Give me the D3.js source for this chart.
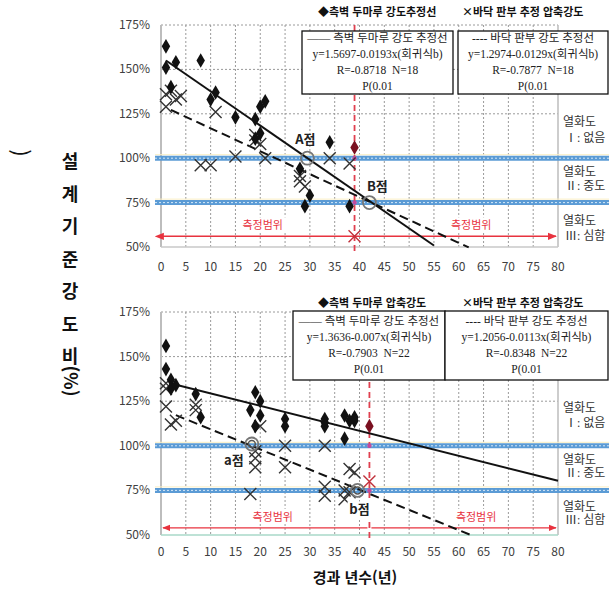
<!DOCTYPE html>
<html lang="ko">
<head>
  <meta charset="UTF-8" />
  <title>설계기준강도비 - 경과 년수</title>
  <script src="https://d3js.org/d3.v7.min.js"></script>
  <style>
    body { margin: 0; background: #fff; }
    svg { display: block; font-family: "Noto Sans CJK KR", "Noto Sans", sans-serif; }
    .tick-label { font-size: 12px; fill: #404040; }
    .box-text { font-family: "Liberation Serif", "Noto Sans CJK KR", serif; font-size: 11.5px; fill: #222; white-space: pre; }
    .legend-title { font-size: 11px; font-weight: bold; fill: #111; }
    .grade { font-family: "Liberation Serif", "Noto Sans CJK KR", serif; font-size: 12px; fill: #333; }
  </style>
</head>
<body>
  <svg id="chart" width="609" height="591"></svg>

  <script>
    // axis ticks
    const xTicks = d3.range(0, 81, 5);
    const yTicks = [50, 75, 100, 125, 150, 175];

    // upper panel : [years, ratio %]
    const topWall = [[1, 163], [1, 151], [3, 154], [8, 155], [2, 140], [11, 137], [10, 133],
      [15, 123], [19, 122], [20, 129], [21, 132], [19, 111], [20, 114], [34, 109],
      [28, 94], [30, 79], [29, 73], [38, 73]];
    const topWallMeasured = [[39, 106]];
    const topFloor = [[1, 136], [1, 129], [3, 133], [4, 135], [2, 138], [11, 126], [15, 101],
      [21, 100], [8, 96], [10, 96], [19, 110], [19, 113], [34, 100], [38, 97],
      [28, 87], [29, 84], [28, 90], [20, 108]];
    const topFloorMeasured = [[39, 56]];

    // lower panel
    const botWall = [[1, 156], [1, 143], [2, 137], [2, 132], [3, 134], [7, 129], [8, 116],
      [19, 130], [20, 125], [18, 120], [20, 117], [19, 111], [25, 115], [25, 111],
      [33, 113], [33, 111], [33, 115], [37, 117], [39, 116], [38, 114], [39, 114], [37, 104]];
    const botWallMeasured = [[42, 111]];
    const botFloor = [[1, 132], [1, 122], [1, 135], [2, 112], [3, 114], [7, 123], [7, 120],
      [20, 111], [19, 97], [19, 93], [19, 88], [25, 100], [25, 88], [18, 73],
      [33, 100], [33, 77], [33, 72], [38, 87], [39, 85], [37, 75], [37, 70], [38, 74]];
    const botFloorMeasured = [[42, 80]];

    // regression lines: [intercept, slope, first year, last year]
    const topWallFit = [1.5697, -0.0193, 1, 55];
    const topFloorFit = [1.2974, -0.0129, 2, 62];
    const botWallFit = [1.3636, -0.007, 2, 80];
    const botFloorFit = [1.2056, -0.0113, 3, 63];

    const topMeasureYear = 39;
    const botMeasureYear = 42;
    const gradeLines = [100, 75];

    // reference points: [label, years, ratio]
    const topMarks = [["A점", 29.5, 100], ["B점", 42, 75]];
    const botMarks = [["a점", 18.3, 101], ["b점", 39.6, 75]];

    const topBoxes = [
      ["—— 측벽 두마루 강도 추정선", "y=1.5697-0.0193x(회귀식b)", "R=-0.8718  N=18", "P(0.01"],
      ["---- 바닥 판부 강도 추정선", "y=1.2974-0.0129x(회귀식b)", "R=-0.7877  N=18", "P(0.01"]
    ];
    const botBoxes = [
      ["—— 측벽 두마루 강도 추정선", "y=1.3636-0.007x(회귀식b)", "R=-0.7903  N=22", "P(0.01"],
      ["---- 바닥 판부 강도 추정선", "y=1.2056-0.0113x(회귀식b)", "R=-0.8348  N=22", "P(0.01"]
    ];
    const topTitles = ["◆측벽 두마루 강도추정선", "×바닥 판부 추정 압축강도"];
    const botTitles = ["◆측벽 두마루 압축강도", "×바닥 판부 추정 압축강도"];
    const gradeLabels = [["열화도", "Ⅰ: 없음"], ["열화도", "Ⅱ: 중도"], ["열화도", "Ⅲ: 심함"]];
    const yTitle = ["설", "계", "기", "준", "강", "도", "비"];

    const svg = d3.select("#chart");
    const x = d3.scaleLinear().domain([0, 80]).range([161, 558]);

    const defs = svg.append("defs");
    ["start", "end"].forEach(k => {
      defs.append("marker")
        .attr("id", "arr-" + k)
        .attr("viewBox", "0 0 10 10")
        .attr("refX", k === "end" ? 9 : 1).attr("refY", 5)
        .attr("markerWidth", 6).attr("markerHeight", 6)
        .attr("orient", k === "end" ? "auto" : "auto-start-reverse")
        .append("path")
        .attr("d", "M0,1 L10,5 L0,9 z")
        .attr("fill", "#e8333f");
    });

    function drawPanel(p) {
      const y = d3.scaleLinear().domain([50, 175]).range(p.yRange);
      const g = svg.append("g");

      // grid
      g.selectAll(".vg").data(xTicks.filter(d => d > 0 && d < 80)).join("line")
        .attr("x1", d => x(d)).attr("x2", d => x(d))
        .attr("y1", y(175)).attr("y2", y(50))
        .attr("stroke", "#9a9a9a").attr("stroke-dasharray", "2,2");
      g.selectAll(".hg").data([125, 150, 175]).join("line")
        .attr("x1", x(0)).attr("x2", x(80))
        .attr("y1", d => y(d)).attr("y2", d => y(d))
        .attr("stroke", "#9a9a9a").attr("stroke-dasharray", "2,2");
      g.append("line").attr("x1", x(80)).attr("x2", x(80)).attr("y1", y(175)).attr("y2", y(50))
        .attr("stroke", "#bdbdbd").attr("stroke-width", 1.5);
      g.append("line").attr("x1", x(0)).attr("x2", x(0)).attr("y1", y(175)).attr("y2", y(50))
        .attr("stroke", "#bdbdbd").attr("stroke-width", 2);
      g.append("line").attr("x1", x(0)).attr("x2", x(80)).attr("y1", y(50)).attr("y2", y(50))
        .attr("stroke", p.baseColor).attr("stroke-width", 1.5);

      // grade lines (blue double)
      gradeLines.forEach(v => {
        g.append("line").attr("x1", x(0) - 6).attr("x2", 609).attr("y1", y(v) - 3.5).attr("y2", y(v) - 3.5)
          .attr("stroke", "#fbefc4").attr("stroke-width", 1);
        g.append("line").attr("x1", x(0) - 6).attr("x2", 609).attr("y1", y(v)).attr("y2", y(v))
          .attr("stroke", "#5b9bd5").attr("stroke-width", 5);
        g.append("line").attr("x1", x(0) - 6).attr("x2", 609).attr("y1", y(v)).attr("y2", y(v))
          .attr("stroke", "#d6e8f7").attr("stroke-width", 1).attr("stroke-dasharray", "2,2");
      });

      // measuring year
      g.append("line").attr("x1", x(p.measureYear)).attr("x2", x(p.measureYear))
        .attr("y1", y(175)).attr("y2", y(50) + 4)
        .attr("stroke", "#e0404f").attr("stroke-width", 1.8).attr("stroke-dasharray", "6,4");
      gradeLines.forEach(v => {
        g.append("circle").attr("cx", x(p.measureYear)).attr("cy", y(v)).attr("r", 2.2).attr("fill", "#c04aa0");
      });

      // measuring range arrows
      const ry = y(p.rangeVal);
      if (p.splitArrow) {
        g.append("line").attr("x1", x(p.measureYear) - 2).attr("x2", x(0) + 2).attr("y1", ry).attr("y2", ry)
          .attr("stroke", "#e8333f").attr("stroke-width", 1.3).attr("marker-end", "url(#arr-end)");
        g.append("line").attr("x1", x(p.measureYear) + 2).attr("x2", x(80) - 2).attr("y1", ry).attr("y2", ry)
          .attr("stroke", "#e8333f").attr("stroke-width", 1.3).attr("marker-end", "url(#arr-end)");
      } else {
        g.append("line").attr("x1", x(0) + 2).attr("x2", x(80) - 2).attr("y1", ry).attr("y2", ry)
          .attr("stroke", "#e8333f").attr("stroke-width", 1.5)
          .attr("marker-start", "url(#arr-start)").attr("marker-end", "url(#arr-end)");
      }
      p.rangeLabelX.forEach(v => {
        g.append("rect").attr("x", x(v) - 24).attr("y", ry - 19).attr("width", 48).attr("height", 15).attr("fill", "#fff");
        g.append("text").attr("x", x(v)).attr("y", ry - 7).attr("text-anchor", "middle")
          .attr("font-size", 11).attr("fill", "#e8333f").text("측정범위");
      });

      // regression lines
      const fitLine = d3.line().x(d => x(d[0])).y(d => y(d[1]));
      [[p.wallFit, null], [p.floorFit, "9,5"]].forEach(([f, dash]) => {
        const pts = [f[2], f[3]].map(t => [t, (f[0] + f[1] * t) * 100]);
        g.append("path").attr("d", fitLine(pts)).attr("fill", "none")
          .attr("stroke", "#111").attr("stroke-width", 2)
          .attr("stroke-dasharray", dash);
      });

      // points
      const diamond = d3.symbol().type(d3.symbolDiamond).size(62);
      const drawWall = (data, color) => g.selectAll(null).data(data).join("path")
        .attr("d", diamond).attr("fill", color)
        .attr("transform", d => `translate(${x(d[0])},${y(d[1])})`);
      const drawFloor = (data, color) => g.selectAll(null).data(data).join("path")
        .attr("d", "M-6,-6L6,6M-6,6L6,-6").attr("stroke", color).attr("stroke-width", 1.4).attr("fill", "none")
        .attr("transform", d => `translate(${x(d[0])},${y(d[1])})`);
      drawFloor(p.floor, "#333");
      drawWall(p.wall, "#111");
      drawWall(p.wallMeasured, "#7a1020");
      drawFloor(p.floorMeasured, "#c0303a");

      // reference points
      p.marks.forEach((m, i) => {
        const cx = x(m[1]), cy = y(m[2]);
        g.append("circle").attr("cx", cx).attr("cy", cy).attr("r", 6.5)
          .attr("fill", "none").attr("stroke", "#777").attr("stroke-width", 1.8);
        if (p.doubleRing) {
          g.append("circle").attr("cx", cx).attr("cy", cy).attr("r", 3.5)
            .attr("fill", "none").attr("stroke", "#555").attr("stroke-width", 1.5);
        }
        const off = p.markOffsets[i];
        if (p.doubleRing) {
          g.append("rect").attr("x", cx + off[0] - 12).attr("y", cy + off[1] - 13).attr("width", 24).attr("height", 17).attr("fill", "#fff");
        }
        g.append("text").attr("x", cx + off[0]).attr("y", cy + off[1])
          .attr("text-anchor", "middle").attr("font-size", 13).attr("font-weight", "bold")
          .attr("fill", "#222").text(m[0]);
      });

      // tick labels
      g.selectAll(".yl").data(yTicks).join("text").attr("class", "tick-label")
        .attr("x", 150).attr("y", d => y(d) + 4).attr("text-anchor", "end").text(d => d + "%");
      g.selectAll(".xl").data(xTicks).join("text").attr("class", "tick-label")
        .attr("x", d => x(d)).attr("y", p.xLabelY).attr("text-anchor", "middle").text(d => d);

      // grade labels
      const gradeY = [[p.gradeYs[0], p.gradeYs[1]], [p.gradeYs[2], p.gradeYs[3]], [p.gradeYs[4], p.gradeYs[5]]];
      gradeLabels.forEach((lbl, i) => {
        g.append("text").attr("class", "grade").attr("x", 563).attr("y", gradeY[i][0]).text(lbl[0]);
        g.append("text").attr("class", "grade").attr("x", 565).attr("y", gradeY[i][1]).text(lbl[1]);
      });

      // regression boxes
      p.boxes.forEach((lines, i) => {
        const b = p.boxPos[i];
        g.append("rect").attr("x", b[0]).attr("y", b[1]).attr("width", b[2]).attr("height", b[3])
          .attr("fill", "#fff").attr("stroke", "#111").attr("stroke-width", 1.3);
        lines.forEach((t, j) => {
          g.append("text").attr("class", "box-text").attr("x", b[0] + b[2] / 2)
            .attr("y", b[1] + p.boxLine0 + j * p.boxLineGap).attr("text-anchor", "middle").text(t);
        });
      });

      // legend titles
      p.titles.forEach((t, i) => {
        g.append("text").attr("class", "legend-title").attr("x", [318, 462][i]).attr("y", p.titleY).text(t);
      });
    }

    drawPanel({
      yRange: [247, 25], baseColor: "#c8c8c8",
      wall: topWall, wallMeasured: topWallMeasured, floor: topFloor, floorMeasured: topFloorMeasured,
      wallFit: topWallFit, floorFit: topFloorFit, measureYear: topMeasureYear,
      rangeVal: 56, splitArrow: false, rangeLabelX: [20.5, 62.5],
      marks: topMarks, doubleRing: false, markOffsets: [[-2, -14], [8, -12]],
      xLabelY: 271, gradeYs: [126, 142, 176, 190, 225, 240],
      boxes: topBoxes, boxPos: [[302, 31, 151, 63], [458, 31, 150, 63]], boxLine0: 11, boxLineGap: 16,
      titles: topTitles, titleY: 16
    });

    drawPanel({
      yRange: [535, 312], baseColor: "#a8d8c8",
      wall: botWall, wallMeasured: botWallMeasured, floor: botFloor, floorMeasured: botFloorMeasured,
      wallFit: botWallFit, floorFit: botFloorFit, measureYear: botMeasureYear,
      rangeVal: 54, splitArrow: true, rangeLabelX: [22.5, 63.5],
      marks: botMarks, doubleRing: true, markOffsets: [[-18, 21], [2, 24]],
      xLabelY: 556, gradeYs: [412, 427, 464, 477, 511, 524],
      boxes: botBoxes, boxPos: [[293, 311, 152, 69], [445, 311, 163, 69]], boxLine0: 14, boxLineGap: 16,
      titles: botTitles, titleY: 307
    });

    // axis titles
    svg.append("text").attr("x", 355).attr("y", 583).attr("text-anchor", "middle")
      .attr("font-size", 15).attr("font-weight", "bold").attr("fill", "#111").text("경과 년수(년)");
    svg.selectAll(".yt").data(yTitle).join("text")
      .attr("x", 70).attr("y", (d, i) => 168 + i * 32.5).attr("text-anchor", "middle")
      .attr("font-size", 18).attr("font-weight", "bold").attr("fill", "#111").text(d => d);
    svg.append("text").attr("transform", "translate(64,381) rotate(90)").attr("text-anchor", "middle")
      .attr("font-size", 18).attr("font-weight", "bold").attr("fill", "#111").text("(%)");
    svg.append("text").attr("transform", "translate(12,153) rotate(90)").attr("text-anchor", "middle")
      .attr("font-size", 22).attr("fill", "#111").text(")");
  </script>
</body>
</html>
